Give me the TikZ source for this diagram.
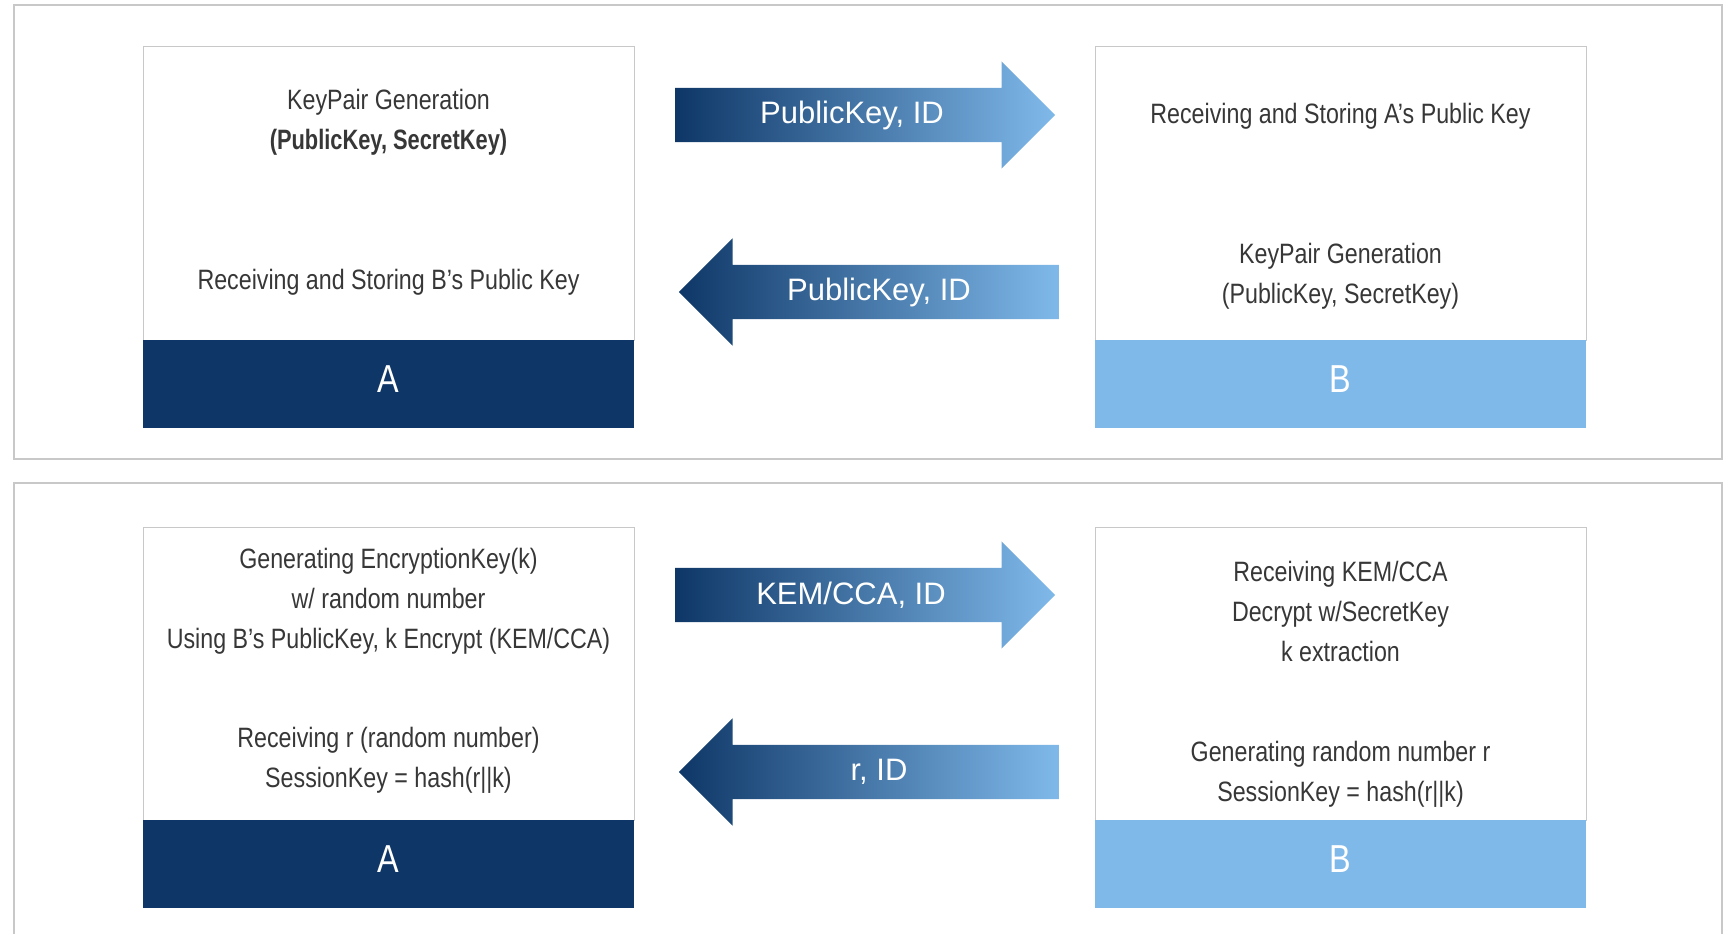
\documentclass[tikz,border=0pt]{standalone}
\usepackage{fontspec}
\setmainfont{Liberation Sans}
\newfontfamily\narrowfont[FakeStretch=0.83, BoldFont={Liberation Sans Bold}, BoldFeatures={FakeStretch=0.78}]{Liberation Sans}
\usetikzlibrary{shapes.arrows, calc, positioning}
\definecolor{anavy}{RGB}{14,55,103}
\definecolor{bsky}{RGB}{127,185,234}
\definecolor{txtgray}{RGB}{55,55,55}
\definecolor{linegray}{RGB}{200,200,200}

\begin{document}
\begin{tikzpicture}[
    x=1pt, y=-1pt,
    frame/.style  = {draw=linegray, line width=1.5pt},
    party/.style  = {rectangle, draw=linegray, fill=white, line width=1pt, outer sep=0pt,
                     minimum width=491pt, minimum height=293pt, anchor=north west, inner sep=0pt},
    band/.style   = {rectangle, minimum width=491pt, minimum height=88pt, outer sep=0pt, inner sep=0pt,
                     text depth=9pt, text=white, font=\narrowfont\fontsize{39}{44}\selectfont},
    desc/.style   = {align=center, text=txtgray, font=\narrowfont\fontsize{28}{40}\selectfont, inner sep=0pt},
    msg/.style    = {single arrow, text height=27pt, text depth=27pt, text width=0pt, inner sep=0pt,
                     minimum height=380pt, single arrow head extend=26.5pt, single arrow tip angle=90,
                     left color=anavy, right color=bsky, draw=none, anchor=tail},
    msglbl/.style = {text=white, font=\fontsize{31}{36}\selectfont, inner sep=0pt},
]
\clip (0,0) rectangle (1729,934);

% ---- key exchange (top panel) -----------------------------------------------
\draw[frame] (14,5) rectangle (1722,459);
\node[party] (bodyA1) at (143,47) {};
\node[band, fill=anavy, below=0pt of bodyA1] (bandA1) {A};
\node[party, right=461pt of bodyA1.north east, anchor=north west] (bodyB1) {};
\node[band, fill=bsky, below=0pt of bodyB1] (bandB1) {B};

\node[desc] (genA1) at ($(bodyA1.north)+(0,75)$) {KeyPair Generation\\\textbf{(PublicKey, SecretKey)}};
\node[desc] (storeA1) at ($(bodyA1.north)+(0,235)$) {Receiving and Storing B’s Public Key};
\node[desc] (storeB1) at ($(bodyB1.north)+(0,69)$) {Receiving and Storing A’s Public Key};
\node[desc] (genB1) at ($(bodyB1.north)+(0,229)$) {KeyPair Generation\\(PublicKey, SecretKey)};

\node[msg] (pkAB) at (675,115) {};
\node[msg, shape border rotate=180] (pkBA) at (1059,292) {};
\node[msglbl] (pkABlbl) at (852,115) {PublicKey, ID};
\node[msglbl] (pkBAlbl) at (879,292) {PublicKey, ID};

% ---- session key (bottom panel) ---------------------------------------------
\draw[frame] (14,483) rectangle (1722,960);
\node[party] (bodyA2) at (143,527) {};
\node[band, fill=anavy, below=0pt of bodyA2] (bandA2) {A};
\node[party, right=461pt of bodyA2.north east, anchor=north west] (bodyB2) {};
\node[band, fill=bsky, below=0pt of bodyB2] (bandB2) {B};

\node[desc] (encA2) at ($(bodyA2.north)+(0,74)$) {Generating EncryptionKey(k)\\w/ random number\\Using B’s PublicKey, k Encrypt (KEM/CCA)};
\node[desc] (sessA2) at ($(bodyA2.north)+(0,233.5)$) {Receiving r (random number)\\SessionKey = hash(r||k)};
\node[desc] (decB2) at ($(bodyB2.north)+(0,84)$) {Receiving KEM/CCA\\Decrypt w/SecretKey\\k extraction};
\node[desc] (sessB2) at ($(bodyB2.north)+(0,247.5)$) {Generating random number r\\SessionKey = hash(r||k)};

\node[msg] (kemAB) at (675,595) {};
\node[msg, shape border rotate=180] (rBA) at (1059,772) {};
\node[msglbl] (kemABlbl) at (851,595) {KEM/CCA, ID};
\node[msglbl] (rBAlbl) at (879,772) {r, ID};
\end{tikzpicture}
\end{document}
